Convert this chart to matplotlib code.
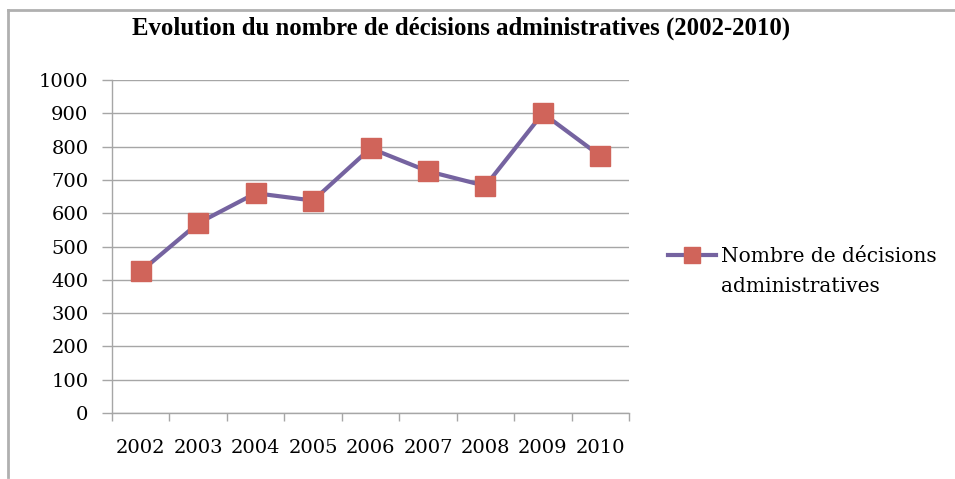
import matplotlib.pyplot as plt
from matplotlib.lines import Line2D

years = ['2002', '2003', '2004', '2005', '2006', '2007', '2008', '2009', '2010']
decisions = [425, 570, 660, 638, 795, 726, 682, 900, 772]
series_label = ['Nombre de décisions', 'administratives']
title = 'Evolution du nombre de décisions administratives (2002-2010)'

line_col = '#7563A0'
marker_col = '#D0645A'
grid_col = '#A6A6A6'

fig = plt.figure(figsize=(9.55, 4.79), dpi=100)
W, H = 955, 479
ax = fig.add_axes([112 / W, 1 - 413 / H, (629 - 112) / W, (413 - 80) / H])

x = list(range(len(years)))
ax.plot(x, decisions, color=line_col, linewidth=3, marker='s',
        markersize=14, markerfacecolor=marker_col, markeredgecolor=marker_col,
        zorder=3)

ax.set_xlim(-0.5, len(years) - 0.5)
ax.set_ylim(0, 1000)
ax.set_yticks(range(0, 1001, 100))
ax.set_xticks(x)
ax.set_xticklabels(years)
ax.set_xticks([i - 0.5 for i in range(len(years) + 1)], minor=True)
ax.tick_params(axis='x', which='major', length=0, pad=19)
ax.tick_params(axis='x', which='minor', length=6, color=grid_col, width=1)
ax.tick_params(axis='y', length=7, color=grid_col, width=1, pad=10)
for lab in ax.get_xticklabels() + ax.get_yticklabels():
    lab.set_fontfamily('DejaVu Serif')
    lab.set_fontsize(14)

ax.grid(axis='y', color=grid_col, linewidth=1)
ax.set_axisbelow(True)
for s in ['top', 'right']:
    ax.spines[s].set_visible(False)
for s in ['left', 'bottom']:
    ax.spines[s].set_color(grid_col)
    ax.spines[s].set_linewidth(1)

fig.text(461 / W, 1 - 28 / H, title, ha='center', va='center',
         family='Liberation Serif', weight='bold', fontsize=17.8)

# legend: handle sits on the first line, second line wraps underneath
handle = Line2D([], [], color=line_col, linewidth=3, marker='s', markersize=12,
                markerfacecolor=marker_col, markeredgecolor=marker_col)
fig.legend([handle], [series_label[0]], loc='center left',
           bbox_to_anchor=(658 / W, 1 - 257 / H), frameon=False,
           prop={'family': 'DejaVu Serif', 'size': 14.5},
           handlelength=2.4, handletextpad=0.25, borderpad=0)
fig.text(721 / W, 1 - 286 / H, series_label[1], ha='left', va='center',
         family='DejaVu Serif', fontsize=14.5)

# outer frame
fig.add_artist(Line2D([8 / W, 8 / W], [1 - 477 / H, 1 - 10 / H],
                      color='#B0B0B0', linewidth=2, transform=fig.transFigure))
fig.add_artist(Line2D([8 / W, 1], [1 - 10 / H, 1 - 10 / H],
                      color='#B0B0B0', linewidth=2, transform=fig.transFigure))

fig.savefig('out.png', dpi=100)
